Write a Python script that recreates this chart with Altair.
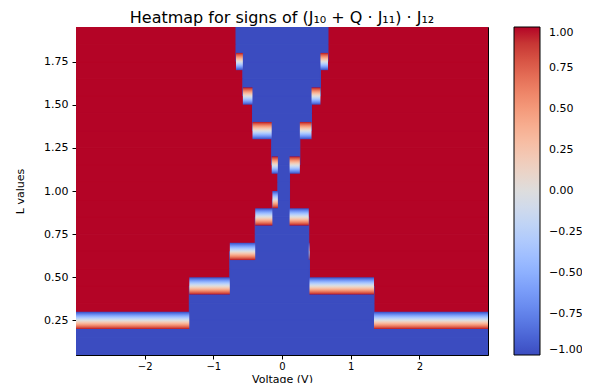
import altair as alt
import pandas as pd

# ---- data ----
L_values = [0.1, 0.2, 0.3, 0.4, 0.5, 0.6, 0.7, 0.8, 0.9, 1.0,
            1.1, 1.2, 1.3, 1.4, 1.5, 1.6, 1.7, 1.8, 1.9]
# blue (negative sign) voltage interval for each L row; outside it the sign is +1
blue_lo = [-3.0, -3.0, -1.35, -1.35, -0.76, -0.76, -0.39, -0.39, -0.14, -0.06,
           -0.06, -0.15, -0.15, -0.43, -0.43, -0.57, -0.57, -0.67, -0.67]
blue_hi = [3.0, 3.0, 1.34, 1.34, 0.40, 0.40, 0.39, 0.39, 0.11, 0.11,
           0.11, 0.26, 0.26, 0.43, 0.43, 0.56, 0.56, 0.67, 0.67]
V_MIN, V_MAX = -3.0, 3.0
L_MIN, L_MAX = 0.05, 1.95
HALF = 0.05

x_ticks = [-2, -1, 0, 1, 2]
y_ticks = [0.25, 0.5, 0.75, 1.0, 1.25, 1.5, 1.75]
cbar_ticks = [-1.0, -0.75, -0.5, -0.25, 0.0, 0.25, 0.5, 0.75, 1.0]

# coolwarm colormap stops
cw_pos = [-1.0, -0.9375, -0.875, -0.8125, -0.75, -0.6875, -0.625, -0.5625, -0.5,
          -0.4375, -0.375, -0.3125, -0.25, -0.1875, -0.125, -0.0625, 0.0,
          0.0625, 0.125, 0.1875, 0.25, 0.3125, 0.375, 0.4375, 0.5,
          0.5625, 0.625, 0.6875, 0.75, 0.8125, 0.875, 0.9375, 1.0]
cw_colors = ["#3b4cc0", "#445acc", "#4d68d7", "#5775e1", "#6282ea", "#6c8ef1",
             "#779af7", "#82a5fb", "#8db0fe", "#98b9ff", "#a3c2ff", "#aec9fd",
             "#b8d0f9", "#c2d5f4", "#ccd9ee", "#d5dbe6", "#dddddd", "#e5d8d1",
             "#ecd3c5", "#f1ccb9", "#f5c4ad", "#f7bba0", "#f7b194", "#f7a687",
             "#f49a7b", "#f18d6f", "#ec7f63", "#e57058", "#de604d", "#d55042",
             "#cb3e38", "#c0282f", "#b40426"]
BLUE, RED = cw_colors[0], cw_colors[-1]

FONT = "DejaVu Sans"

# ---- build tables ----
red_rows, blue_rows = [], []
for L, lo, hi in zip(L_values, blue_lo, blue_hi):
    for a, b, v in [(V_MIN, lo, 1.0), (lo, hi, -1.0), (hi, V_MAX, 1.0)]:
        if b > a:
            rec = {"x": a, "x2": b, "y": L - HALF, "y2": L + HALF, "value": v}
            (red_rows if v > 0 else blue_rows).append(rec)
red_df = pd.DataFrame(red_rows)
blue_df = pd.DataFrame(blue_rows)


def minus(a0, a1, b0, b1):
    out = []
    if min(a1, b0) > a0:
        out.append((a0, min(a1, b0)))
    if a1 > max(a0, b1):
        out.append((max(a0, b1), a1))
    return out


up_rows, down_rows = [], []
for i in range(len(L_values) - 1):
    ya, yb = L_values[i], L_values[i + 1]
    A = (blue_lo[i], blue_hi[i])
    B = (blue_lo[i + 1], blue_hi[i + 1])
    for a, b in minus(A[0], A[1], B[0], B[1]):
        up_rows.append({"x": a, "x2": b, "y": ya, "y2": yb})
    for a, b in minus(B[0], B[1], A[0], A[1]):
        down_rows.append({"x": a, "x2": b, "y": ya, "y2": yb})
up_df = pd.DataFrame(up_rows)
down_df = pd.DataFrame(down_rows)

xscale = alt.Scale(domain=[V_MIN, V_MAX], nice=False, zero=False)
yscale = alt.Scale(domain=[L_MIN, L_MAX], nice=False, zero=False)
cscale = alt.Scale(domain=cw_pos, range=cw_colors)

x_enc = alt.X("x:Q", scale=xscale, axis=alt.Axis(
    values=x_ticks, format="d", title="Voltage (V)", grid=False,
    tickSize=4, labelPadding=2, labelFontSize=10, titleFontSize=11,
    labelFont=FONT, titleFont=FONT, labelColor="black", titleColor="black",
    domainColor="black", tickColor="black", titleFontWeight="normal",
    titleX=206, titleY=24, titleBaseline="middle"))
y_enc = alt.Y("y:Q", scale=yscale, axis=alt.Axis(
    values=y_ticks, format=".2f", title="L values", grid=False,
    tickSize=4, labelPadding=4, labelFontSize=11, titleFontSize=11,
    labelFont=FONT, titleFont=FONT, labelColor="black", titleColor="black",
    domainColor="black", tickColor="black", titleFontWeight="normal",
    titleX=-56, titleY=164, titleBaseline="middle"))

legend = alt.Legend(
    type="gradient", orient="none", legendX=438, legendY=0, direction="vertical",
    gradientLength=328, gradientThickness=26, values=cbar_ticks,
    format=".2f", labelFontSize=11, labelOffset=9, labelFont=FONT,
    labelColor="black", labelBaseline="middle",
    gradientStrokeColor="black", gradientStrokeWidth=1,
    title=None, labelOverlap=False)

base_red = alt.Chart(red_df).mark_rect(stroke=RED, strokeWidth=1, clip=True).encode(
    x=x_enc, x2="x2:Q", y=y_enc, y2="y2:Q",
    color=alt.Color("value:Q", scale=cscale, legend=legend))
base_blue = alt.Chart(blue_df).mark_rect(stroke=BLUE, strokeWidth=1, clip=True).encode(
    x=alt.X("x:Q", scale=xscale), x2="x2:Q", y=alt.Y("y:Q", scale=yscale), y2="y2:Q",
    color=alt.Color("value:Q", scale=cscale, legend=legend))


def grad(flip):
    stops = [alt.GradientStop(color=c, offset=(p + 1) / 2) for p, c in zip(cw_pos, cw_colors)]
    if flip:
        return alt.LinearGradient(gradient="linear", stops=stops, x1=0, x2=0, y1=1, y2=0)
    return alt.LinearGradient(gradient="linear", stops=stops, x1=0, x2=0, y1=0, y2=1)


up = alt.Chart(up_df).mark_rect(color=grad(False), clip=True).encode(
    x=alt.X("x:Q", scale=xscale), x2="x2:Q", y=alt.Y("y:Q", scale=yscale), y2="y2:Q")
down = alt.Chart(down_df).mark_rect(color=grad(True), clip=True).encode(
    x=alt.X("x:Q", scale=xscale), x2="x2:Q", y=alt.Y("y:Q", scale=yscale), y2="y2:Q")

chart = alt.layer(base_red, base_blue, up, down).properties(
    width=412, height=328,
    title=alt.Title("Heatmap for signs of (J₁₀ + Q · J₁₁) · J₁₂", fontSize=16,
                    font=FONT, fontWeight="normal", color="black", offset=1),
    autosize=alt.AutoSizeParams(type="none"),
    padding={"left": 68, "top": 19, "right": 94, "bottom": 32},
).configure_view(stroke="black", strokeWidth=1)

chart.save("out.html", embed_options={"renderer": "svg", "actions": False})
